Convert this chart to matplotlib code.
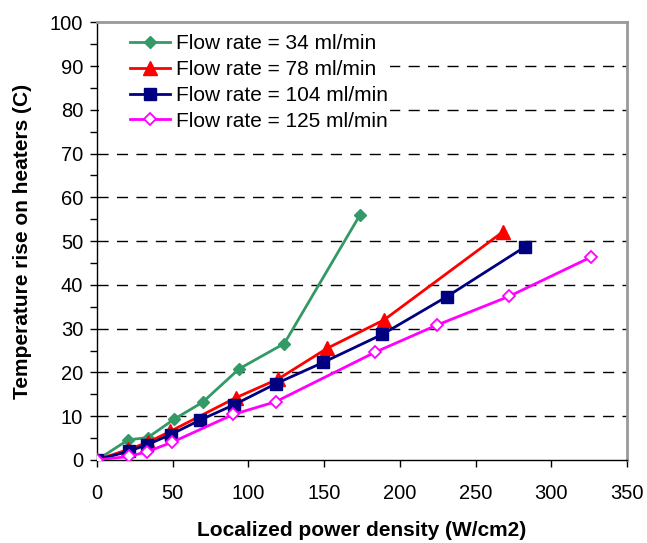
import matplotlib
matplotlib.use("Agg")
import matplotlib.pyplot as plt
from matplotlib.ticker import MultipleLocator
from matplotlib.patches import Rectangle

plt.rcParams['font.family'] = ['Liberation Sans', 'DejaVu Sans']

labels = ["Flow rate = 34 ml/min", "Flow rate = 78 ml/min",
          "Flow rate = 104 ml/min", "Flow rate = 125 ml/min"]

green_x = [0, 20.7, 33.5, 50.9, 69.8, 93.8, 123.7, 173.7]
green_y = [0, 4.6, 5.1, 9.3, 13.2, 20.8, 26.6, 56.0]

red_x = [0, 20.7, 33.5, 48.2, 91.6, 119.7, 152, 189.6, 268]
red_y = [0, 2.4, 4.0, 6.5, 14.2, 18.5, 25.5, 32.0, 52.1]

blue_x = [0, 21.3, 33.2, 48.7, 68, 90.5, 118, 149.5, 188.5, 231, 282.7]
blue_y = [0, 2.0, 3.5, 5.8, 9.1, 12.6, 17.4, 22.3, 28.7, 37.3, 48.7]

mag_x = [0, 21.3, 33.2, 49.3, 90, 118, 183.6, 224.4, 272.3, 326]
mag_y = [0, 0.8, 1.9, 4.0, 10.4, 13.3, 24.6, 30.8, 37.4, 46.3]

fig = plt.figure(figsize=(6.47, 5.43), dpi=100)
ax = fig.add_axes([0.150, 0.153, 0.819, 0.806])

ax.plot(green_x, green_y, color='#339966', lw=2, marker='D', ms=6.5,
        mfc='#339966', mec='#339966', label=labels[0], zorder=3)
ax.plot(red_x, red_y, color='#FF0000', lw=2, marker='^', ms=9.5,
        mfc='#FF0000', mec='#FF0000', label=labels[1], zorder=4)
ax.plot(blue_x, blue_y, color='#000080', lw=2, marker='s', ms=8,
        mfc='#000080', mec='#000080', label=labels[2], zorder=5)
ax.plot(mag_x, mag_y, color='#FF00FF', lw=2, marker='D', ms=6.5,
        mfc='white', mec='#FF00FF', mew=1.3, label=labels[3], zorder=6)

ax.set_xlim(0, 350)
ax.set_ylim(0, 100)
ax.xaxis.set_major_locator(MultipleLocator(50))
ax.yaxis.set_major_locator(MultipleLocator(10))
ax.yaxis.set_minor_locator(MultipleLocator(5))

for y in range(10, 100, 10):
    ax.axhline(y, color='black', lw=1, ls=(0, (8, 6)), zorder=1)

# white legend background covering the gridlines
ax.add_patch(Rectangle((0.003, 0.72), 0.55, 0.275, transform=ax.transAxes,
                       facecolor='white', edgecolor='none', zorder=2))

ax.tick_params(axis='both', which='both', direction='out', length=5,
               width=1, labelsize=14.5, pad=5)
ax.tick_params(axis='x', pad=12)

for s in ['left', 'bottom']:
    ax.spines[s].set_color('black')
    ax.spines[s].set_linewidth(1)
for s in ['top', 'right']:
    ax.spines[s].set_color('#999999')
    ax.spines[s].set_linewidth(2)

ax.set_xlabel("Localized power density (W/cm2)", fontsize=15,
              fontweight='bold', labelpad=13)
ax.set_ylabel("Temperature rise on heaters (C)", fontsize=15,
              fontweight='bold', labelpad=13)

leg = ax.legend(loc='upper left', bbox_to_anchor=(0.047, 0.992), frameon=False,
                fontsize=15, handlelength=1.9, handletextpad=0.3,
                labelspacing=0.33, borderaxespad=0)
leg.set_zorder(7)

fig.savefig("out.png", dpi=100)
